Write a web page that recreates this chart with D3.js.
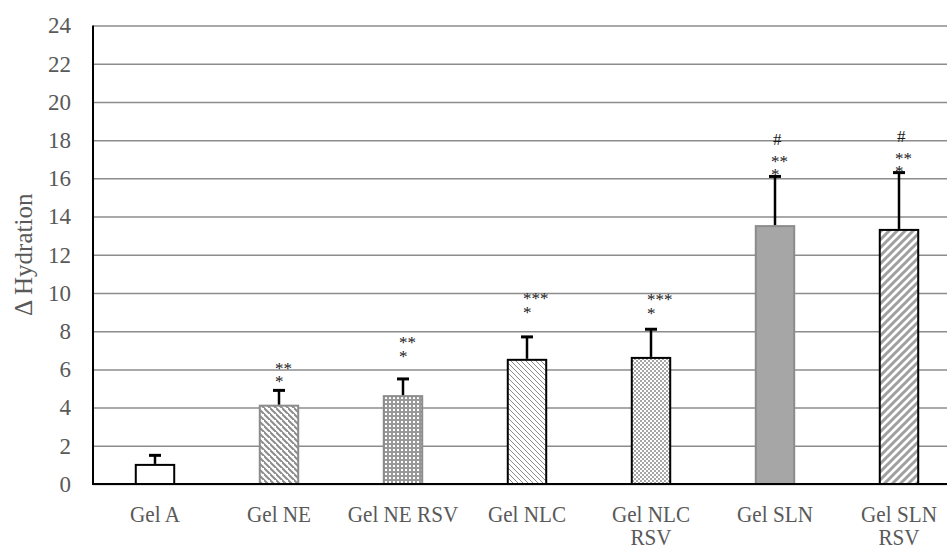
<!DOCTYPE html>
<html>
<head>
<meta charset="utf-8">
<script src="https://cdn.jsdelivr.net/npm/d3@7/dist/d3.min.js"></script>
<style>
	body { margin: 0; background: #fff; }
	svg { display: block; }
	.tick-text { font-family: 'Liberation Serif', serif; font-size: 23px; fill: #595959; }
	.title-text { font-family: 'Liberation Serif', serif; font-size: 25px; fill: #595959; }
	.note { font-family: 'Liberation Serif', serif; font-size: 17px; fill: #1a1a1a; }
</style>
</head>
<body>
<svg id="chart-svg" width="947" height="551"></svg>
<script>
// chart data
const categories = ['Gel A', 'Gel NE', 'Gel NE RSV', 'Gel NLC', 'Gel NLC RSV', 'Gel SLN', 'Gel SLN RSV'];
const hydration = [1.0, 4.1, 4.6, 6.5, 6.6, 13.5, 13.3];
const errorTop = [1.5, 4.9, 5.5, 7.7, 8.1, 16.1, 16.3];
const yTicks = [0, 2, 4, 6, 8, 10, 12, 14, 16, 18, 20, 22, 24];

// significance marks above the bars (level = where the lowest line sits, in chart units)
const starLine1 = ['', '**', '**', '***', '***', '**', '**'];
const starLine2 = ['', '*', '*', '*', '*', '*', '*'];
const hashMarks = ['', '', '', '', '', '#', '#'];
const noteLevel = [null, 5.07, 6.4, 8.7, 8.65, 15.9, 16.05];

// bar look, one per category
const barFill = ['#fff', 'url(#p-ne)', 'url(#p-nersv)', 'url(#p-nlc)', 'url(#p-nlcrsv)', '#a6a6a6', 'url(#p-slnrsv)'];
const barStroke = ['#000', '#8c8c8c', '#8c8c8c', '#000', '#000', '#8c8c8c', '#000'];

const svg = d3.select('#chart-svg');
const plotLeft = 93, plotRight = 961, plotTop = 25.5, plotBottom = 484;
const condense = 0.92; // labels in the reference are a bit narrower than Liberation Serif

// patterns
const defs = svg.append('defs');
let p = defs.append('pattern').attr('id', 'p-ne').attr('width', 6).attr('height', 6).attr('patternUnits', 'userSpaceOnUse');
p.append('rect').attr('width', 6).attr('height', 6).attr('fill', '#fff');
p.append('path').attr('d', 'M-1,-1 L7,7 M-4,2 L2,8 M4,-4 L10,2').attr('stroke', '#8c8c8c').attr('stroke-width', 2);

p = defs.append('pattern').attr('id', 'p-nersv').attr('width', 4).attr('height', 4).attr('patternUnits', 'userSpaceOnUse');
p.append('rect').attr('width', 4).attr('height', 4).attr('fill', '#999');
p.append('rect').attr('x', 1).attr('y', 1).attr('width', 2).attr('height', 2).attr('fill', '#fff');

p = defs.append('pattern').attr('id', 'p-nlc').attr('width', 5).attr('height', 5).attr('patternUnits', 'userSpaceOnUse');
p.append('rect').attr('width', 5).attr('height', 5).attr('fill', '#fff');
p.append('path').attr('d', 'M-1,-1 L6,6 M-3.5,1.5 L1.5,6.5 M3.5,-1.5 L6.5,1.5').attr('stroke', '#8c8c8c').attr('stroke-width', 1);

p = defs.append('pattern').attr('id', 'p-nlcrsv').attr('width', 4).attr('height', 4).attr('patternUnits', 'userSpaceOnUse');
p.append('rect').attr('width', 4).attr('height', 4).attr('fill', '#fff');
p.append('rect').attr('width', 2).attr('height', 2).attr('fill', '#a6a6a6');
p.append('rect').attr('x', 2).attr('y', 2).attr('width', 2).attr('height', 2).attr('fill', '#a6a6a6');

p = defs.append('pattern').attr('id', 'p-slnrsv').attr('width', 8).attr('height', 8).attr('patternUnits', 'userSpaceOnUse');
p.append('rect').attr('width', 8).attr('height', 8).attr('fill', '#fff');
p.append('path').attr('d', 'M-2,10 L10,-2 M-6,6 L6,-6 M2,14 L14,2').attr('stroke', '#a0a0a0').attr('stroke-width', 3);

// scales
const x = d3.scaleBand().domain(categories).range([plotLeft, plotRight]).paddingInner(0.69).paddingOuter(0.345);
const y = d3.scaleLinear().domain([0, 24]).range([plotBottom, plotTop]);

// gridlines + y tick labels
const yAxis = svg.append('g')
	.attr('transform', 'translate(' + plotLeft + ',0)')
	.call(d3.axisLeft(y).tickValues(yTicks).tickSize(-(plotRight - plotLeft)).tickPadding(22));
yAxis.select('.domain').remove();
yAxis.selectAll('.tick line').attr('stroke', '#8c8c8c').attr('stroke-width', 1.5);
yAxis.selectAll('.tick text').attr('class', 'tick-text');
yAxis.attr('font-size', null).attr('font-family', null);

// y title
svg.append('text')
	.attr('class', 'title-text')
	.attr('transform', 'translate(23,' + (plotTop + plotBottom) / 2 + ') rotate(-90)')
	.attr('text-anchor', 'middle')
	.attr('dominant-baseline', 'central')
	.text('\u0394 Hydration');

// bars
svg.selectAll('.bar')
	.data(categories)
	.enter()
	.append('rect')
	.attr('class', 'bar')
	.attr('x', (d) => x(d))
	.attr('y', (d, i) => y(hydration[i]))
	.attr('width', x.bandwidth())
	.attr('height', (d, i) => y(0) - y(hydration[i]))
	.attr('fill', (d, i) => barFill[i])
	.attr('stroke', (d, i) => barStroke[i])
	.attr('stroke-width', 2);

// error bars
const errG = svg.selectAll('.err').data(categories).enter().append('g').attr('class', 'err');
errG.append('line')
	.attr('x1', (d) => x(d) + x.bandwidth() / 2)
	.attr('x2', (d) => x(d) + x.bandwidth() / 2)
	.attr('y1', (d, i) => y(hydration[i]) - 1)
	.attr('y2', (d, i) => y(errorTop[i]))
	.attr('stroke', '#000').attr('stroke-width', 2.5);
errG.append('line')
	.attr('x1', (d) => x(d) + x.bandwidth() / 2 - 6)
	.attr('x2', (d) => x(d) + x.bandwidth() / 2 + 6)
	.attr('y1', (d, i) => y(errorTop[i]))
	.attr('y2', (d, i) => y(errorTop[i]))
	.attr('stroke', '#000').attr('stroke-width', 3);

// axes lines
svg.append('line').attr('x1', plotLeft).attr('x2', plotRight).attr('y1', plotBottom).attr('y2', plotBottom).attr('stroke', '#000').attr('stroke-width', 2);
svg.append('line').attr('x1', plotLeft).attr('x2', plotLeft).attr('y1', plotTop).attr('y2', plotBottom + 1).attr('stroke', '#000').attr('stroke-width', 2);

// x labels, wrapped when wider than the band step
const xAxis = svg.append('g')
	.attr('transform', 'translate(0,' + plotBottom + ')')
	.call(d3.axisBottom(x).tickSize(0));
xAxis.select('.domain').remove();
xAxis.attr('font-size', null).attr('font-family', null);
xAxis.selectAll('.tick text').each(function (d) {
	const t = d3.select(this).attr('class', 'tick-text').attr('dy', null).attr('y', 38);
	const lines = this.getComputedTextLength() * condense > 120
		? [d.slice(0, d.lastIndexOf(' ')), d.slice(d.lastIndexOf(' ') + 1)]
		: [d];
	t.text(null);
	lines.forEach((line, k) => {
		const ts = t.append('tspan').attr('x', 0).attr('y', 38 + k * 23).text(line);
		ts.attr('textLength', ts.node().getComputedTextLength() * condense).attr('lengthAdjust', 'spacingAndGlyphs');
	});
});

// significance notes, one text element per bar
categories.forEach((c, i) => {
	if (noteLevel[i] === null) return;
	const cx = x(c) + x.bandwidth() / 2;
	const base = y(noteLevel[i]);
	const note = svg.append('text').attr('class', 'note');
	if (hashMarks[i]) {
		note.append('tspan').attr('x', cx - 2).attr('y', base - 35.5).text(hashMarks[i]);
	}
	note.append('tspan').attr('x', cx - 4).attr('y', base - 13.5).text(starLine1[i]);
	note.append('tspan').attr('x', cx - 4).attr('y', base).text(starLine2[i]);
});
</script>
</body>
</html>
